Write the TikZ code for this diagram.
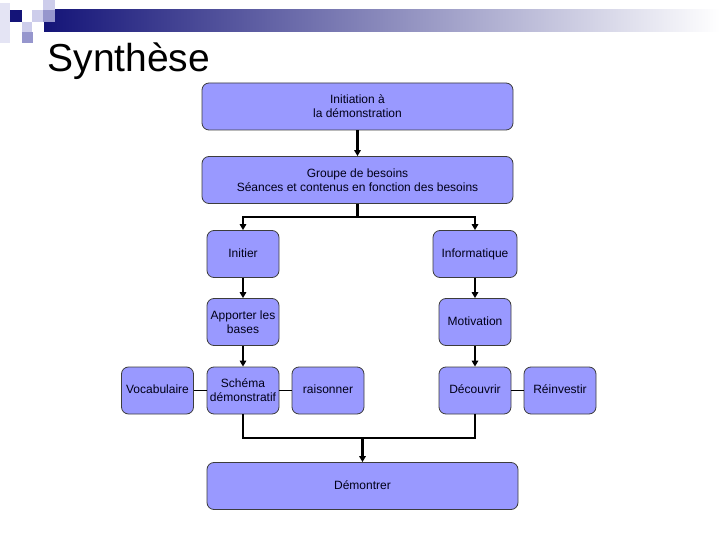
\documentclass[tikz,border=0pt]{standalone}
\usepackage{fontspec}
\setmainfont{Liberation Sans}
\usepackage{xcolor}
\definecolor{slideblue}{RGB}{153,153,255}
\definecolor{slidenavy}{RGB}{20,20,120}
\definecolor{slidemid}{RGB}{150,150,205}
\definecolor{slidelight}{RGB}{205,205,235}
\definecolor{slidepale}{RGB}{228,228,244}
\definecolor{boxline}{RGB}{60,60,60}
\usetikzlibrary{arrows.meta,positioning,calc}

\begin{document}
\begin{tikzpicture}[
  x=1pt, y=-1pt,
  stagebox/.style={
    rectangle, rounded corners=7pt,
    minimum height=47pt, inner sep=0pt,
    draw=boxline, line width=0.8pt,
    fill=slideblue,
    font=\fontsize{12}{14}\selectfont,
    align=center,
    text=black!90!blue
  },
  oneline/.style={text height=8.6pt, text depth=2.4pt},
  conn/.style={-{Triangle[length=6pt,width=6.5pt]}, line width=2.2pt, draw=black},
  trunk/.style={line width=2.2pt, draw=black},
  link/.style={line width=1pt, draw=black}
]
\useasboundingbox (0,0) rectangle (720,540);

% slide decoration
\shade[left color=slidenavy, right color=white] (44,10) rectangle (720,32);
\fill[slidepale]  (0,3)   rectangle (10,43);
\fill[slidenavy]  (10,10) rectangle (22,22);
\fill[slidelight] (32,10) rectangle (43,22);
\fill[slidelight] (43,0)  rectangle (55,10);
\fill[slidemid]   (43,10) rectangle (55,22);
\fill[slidelight] (22,22) rectangle (32,32);
\fill[slidemid]   (22,32) rectangle (33,43);

\node[anchor=base west, font=\fontsize{39}{44}\selectfont] (title) at (44,72) {Synthèse};

\node[stagebox, minimum width=311pt] (initiation) at (357.5,106.5) {Initiation à\\la démonstration};
\node[stagebox, minimum width=311pt] (groupe)     at (357.5,180)   {Groupe de besoins\\Séances et contenus en fonction des besoins};

\node[stagebox, oneline, minimum width=72pt] (initier)      at (243,254) {Initier};
\node[stagebox, oneline, minimum width=84pt] (informatique) at (475,254) {Informatique};
\node[stagebox, minimum width=72pt]          (bases)        at (243,322) {Apporter les\\bases};
\node[stagebox, oneline, minimum width=72pt] (motivation)   at (475,322) {Motivation};

\node[stagebox, oneline, minimum width=72pt] (vocabulaire) at (157.5,390.5) {Vocabulaire};
\node[stagebox, minimum width=72pt]          (schema)      at (243,390.5)   {Schéma\\démonstratif};
\node[stagebox, oneline, minimum width=72pt] (raisonner)   at (328,390.5)   {raisonner};
\node[stagebox, oneline, minimum width=72pt] (decouvrir)   at (475,390.5)   {Découvrir};
\node[stagebox, oneline, minimum width=72pt] (reinvestir)  at (560,390.5)   {Réinvestir};

\node[stagebox, oneline, minimum width=311pt] (demontrer) at (362.5,486) {Démontrer};

\coordinate (fork) at (357.5,217);
\coordinate (join) at (362.5,438);

\draw[conn] (initiation) -- (groupe);
\draw[trunk] (groupe) -- (fork);
\draw[conn] (fork) -| (initier);
\draw[conn] (fork) -| (informatique);
\draw[conn] (initier) -- (bases);
\draw[conn] (bases) -- (schema);
\draw[conn] (informatique.south -| motivation) -- (motivation);
\draw[conn] (motivation) -- (decouvrir);

\draw[link] (vocabulaire) -- (schema);
\draw[link] (schema) -- (raisonner);
\draw[link] (decouvrir) -- (reinvestir);

\draw[trunk] (schema) |- (join);
\draw[trunk] (decouvrir) |- (join);
\draw[conn] (join) -- (demontrer);
\end{tikzpicture}
\end{document}
